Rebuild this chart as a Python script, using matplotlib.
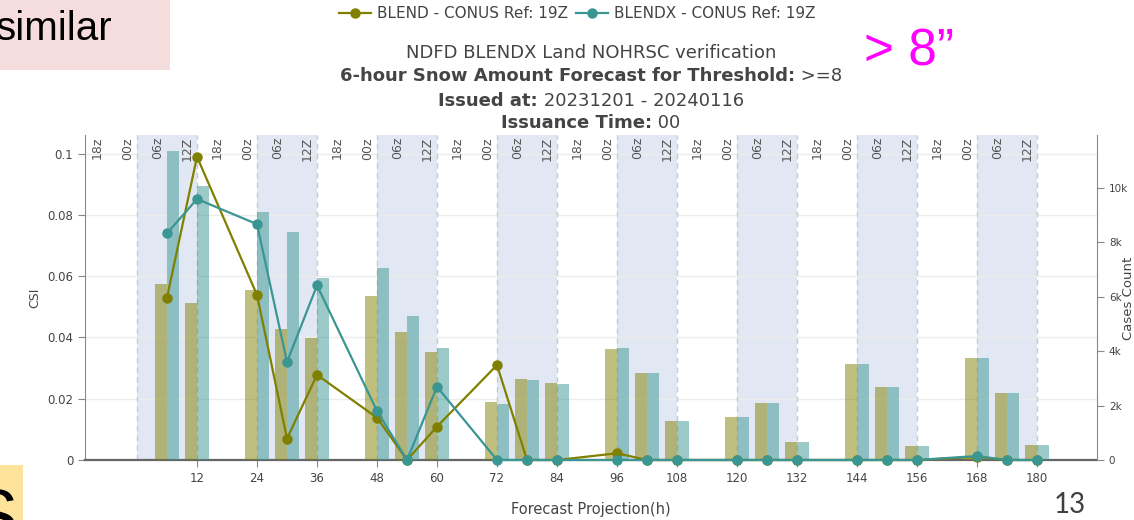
import matplotlib
matplotlib.use("Agg")
import matplotlib.pyplot as plt
from matplotlib.transforms import ScaledTranslation, blended_transform_factory

# ---- data -------------------------------------------------------------
lead_hours = [6, 12, 24, 30, 36, 48, 54, 60, 72, 78, 84, 96, 102, 108,
              120, 126, 132, 144, 150, 156, 168, 174, 180]

csi_blend = [0.0530, 0.0990, 0.0539, 0.0070, 0.0278, 0.0138, 0.0, 0.0109,
             0.0310, 0.0, 0.0, 0.0022, 0.0, 0.0, 0.0, 0.0, 0.0, 0.0, 0.0,
             0.0, 0.0010, 0.0, 0.0]
csi_blendx = [0.0740, 0.0852, 0.0770, 0.0320, 0.0570, 0.0160, 0.0, 0.0239,
              0.0, 0.0, 0.0, 0.0, 0.0, 0.0, 0.0, 0.0, 0.0, 0.0, 0.0,
              0.0, 0.0013, 0.0, 0.0]

cases_blend = [6460, 5750, 6230, 4800, 4490, 6010, 4690, 3980, 2140, 2970,
               2840, 4080, 3190, 1420, 1570, 2080, 670, 3510, 2680, 525,
               3750, 2450, 540]
cases_blendx = [11350, 10060, 9120, 8360, 6670, 7040, 5290, 4100, 2050, 2940,
                2790, 4110, 3210, 1420, 1570, 2080, 670, 3510, 2680, 525,
                3750, 2450, 540]

series_names = ["BLEND - CONUS Ref: 19Z", "BLENDX - CONUS Ref: 19Z"]
csi_ticks = [0, 0.02, 0.04, 0.06, 0.08, 0.1]
csi_ticklabels = ["0", "0.02", "0.04", "0.06", "0.08", "0.1"]
count_ticks = [0, 2000, 4000, 6000, 8000, 10000]
count_ticklabels = ["0", "2k", "4k", "6k", "8k", "10k"]
x_ticks = list(range(12, 181, 12))
cycle_hours = list(range(-6, 181, 6))
cycle_names = {0: "00z", 6: "06z", 12: "12Z", 18: "18z"}

# ---- style ------------------------------------------------------------
OLIVE = "#808000"
TEAL = "#3a9692"
TXT = "#444444"
BAND = "#e1e8f3"
plt.rcParams["font.family"] = ["DejaVu Sans"]

W, H = 1134, 520
fig = plt.figure(figsize=(W / 100, H / 100), dpi=100)
fig.patch.set_facecolor("white")

x0, x1, y0, y1 = 85, 1097, 135, 460
rect = [x0 / W, 1 - y1 / H, (x1 - x0) / W, (y1 - y0) / H]
xlim = (-10.4, 192.0)
csi_lim = (0, 0.1061)
count_lim = (0, 11935)

# bottom layer: shading, grid, left axis
ax = fig.add_axes(rect)
ax.set_xlim(*xlim)
ax.set_ylim(*csi_lim)
for start in range(0, 180, 24):
    ax.axvspan(start, start + 12, color=BAND, lw=0, zorder=0)
for edge in range(0, 181, 12):
    ax.axvline(edge, color="#c5cad3", lw=1.0, ls=(0, (4, 3)), zorder=1)
for v in csi_ticks[1:]:
    ax.axhline(v, color="#ececec", lw=1.0, zorder=0.5)

ax.set_yticks(csi_ticks)
ax.set_yticklabels(csi_ticklabels)
ax.set_xticks(x_ticks)
ax.set_xticklabels([str(t) for t in x_ticks])
ax.tick_params(axis="both", colors="#888888", labelcolor=TXT, labelsize=8.5,
               length=5, width=0.8, direction="out")
ax.tick_params(axis="x", pad=4)
for side in ("top", "right"):
    ax.spines[side].set_visible(False)
ax.spines["left"].set_color("#888888")
ax.spines["bottom"].set_color("#666666")
ax.spines["bottom"].set_linewidth(1.6)
ax.spines["bottom"].set_zorder(5)
ax.set_ylabel("CSI", color=TXT, fontsize=9, labelpad=4)
ax.set_xlabel("Forecast Projection(h)", color=TXT, fontsize=10.5, labelpad=12)

# rotated cycle labels along the top of the plot
lab_tf = blended_transform_factory(ax.transData, ax.transAxes) + \
    ScaledTranslation(-3 / 100, -2 / 100, fig.dpi_scale_trans)
for h in cycle_hours:
    ax.text(h, 1.0, cycle_names[h % 24], transform=lab_tf, rotation=90,
            ha="right", va="top", fontsize=9, color="#555555", zorder=2)

# middle layer: case counts on the right axis
axc = fig.add_axes(rect, sharex=ax)
axc.patch.set_visible(False)
axc.set_ylim(*count_lim)
bw = 2.4
axc.bar([h - bw / 2 for h in lead_hours], cases_blend, width=bw,
        color=OLIVE, alpha=0.5, lw=0)
axc.bar([h + bw / 2 for h in lead_hours], cases_blendx, width=bw,
        color=TEAL, alpha=0.5, lw=0)
axc.yaxis.tick_right()
axc.yaxis.set_label_position("right")
axc.set_yticks(count_ticks)
axc.set_yticklabels(count_ticklabels)
axc.tick_params(axis="y", colors="#888888", labelcolor=TXT, labelsize=7.5,
                length=5, width=0.8)
axc.tick_params(axis="x", bottom=False, labelbottom=False)
for side in ("top", "left", "bottom"):
    axc.spines[side].set_visible(False)
axc.spines["right"].set_color("#888888")

# top layer: CSI lines
axl = fig.add_axes(rect, sharex=ax, sharey=ax)
axl.patch.set_visible(False)
axl.axis("off")
l1, = axl.plot(lead_hours, csi_blend, color=OLIVE, lw=1.6, marker="o",
               ms=6.5, clip_on=False, zorder=3)
l2, = axl.plot(lead_hours, csi_blendx, color=TEAL, lw=1.6, marker="o",
               ms=6.5, clip_on=False, zorder=4)

fig.text(1129 / W, 1 - 298 / H, "Cases Count", rotation=90, ha="center",
         va="center", fontsize=9.5, color=TXT)

# legend
fig.legend([l1, l2], series_names, loc="center", ncol=2, frameon=False,
           bbox_to_anchor=(577 / W, 1 - 14 / H), fontsize=11,
           handlelength=2.1, handletextpad=0.4, columnspacing=0.5,
           labelcolor=TXT)

# title block with bold lead-ins
renderer = fig.canvas.get_renderer()
title_lines = [
    ("", "NDFD BLENDX Land NOHRSC verification", 53),
    ("6-hour Snow Amount Forecast for Threshold:", " >=8", 76),
    ("Issued at:", " 20231201 - 20240116", 101),
    ("Issuance Time:", " 00", 123),
]
cx = 591
for bold, plain, ypx in title_lines:
    tb = fig.text(0, 1 - ypx / H, bold, fontsize=13, weight="bold",
                  color=TXT, va="center", ha="left")
    tp = fig.text(0, 1 - ypx / H, plain, fontsize=13, color=TXT,
                  va="center", ha="left")
    wb = tb.get_window_extent(renderer).width if bold else 0
    wp = tp.get_window_extent(renderer).width
    left = cx - (wb + wp) / 2
    tb.set_x(left / W)
    tp.set_x((left + wb) / W)

# slide annotations
fig.patches.append(plt.Rectangle((0, 1 - 70 / H), 170 / W, 70 / H,
                                 transform=fig.transFigure,
                                 color="#f5dcdd", lw=0, zorder=0))
fig.text(-4 / W, 1 - 40 / H, "similar", fontsize=29, color="black",
         family="Liberation Sans", va="baseline", ha="left")
fig.text(864 / W, 1 - 65 / H, "> 8\u201d", fontsize=37, color="#ff00ff",
         family="Liberation Sans", va="baseline", ha="left")
fig.patches.append(plt.Rectangle((0, 0), 23 / W, 55 / H,
                                 transform=fig.transFigure,
                                 color="#fee39c", lw=0, zorder=0))
fig.text(18 / W, 1 - 540 / H, "S", fontsize=52, color="black",
         family="Liberation Sans", va="baseline", ha="right")
fig.text(1070 / W, 1 - 513 / H, "13", fontsize=20, color="#404040",
         family="Lato", va="baseline", ha="center")

fig.savefig("out.png", dpi=100, facecolor="white")
